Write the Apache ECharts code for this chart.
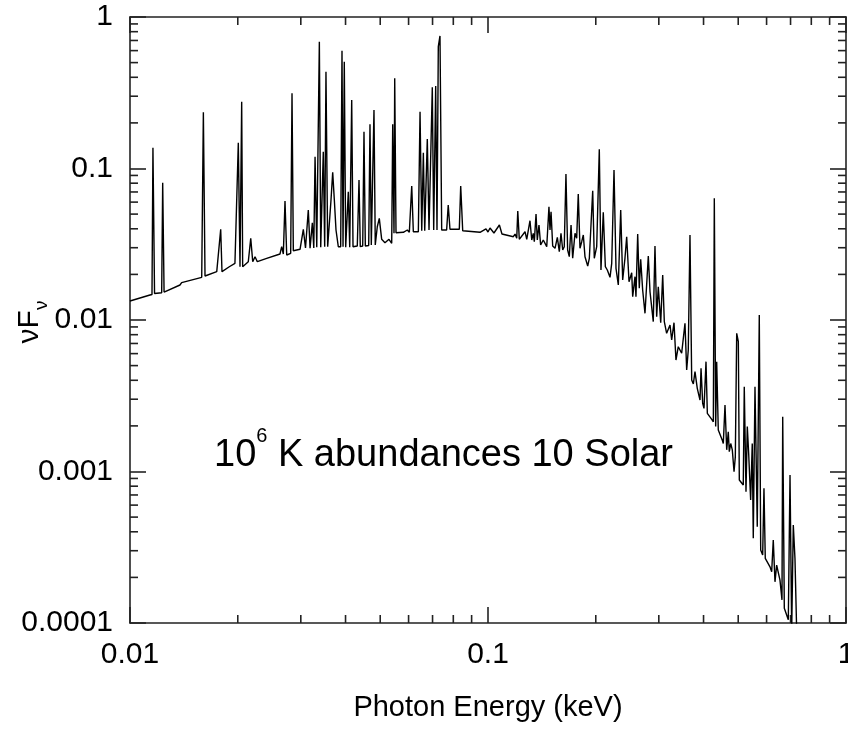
<!DOCTYPE html>
<html>
<head>
<meta charset="utf-8">
<script src="https://cdn.jsdelivr.net/npm/echarts@6/dist/echarts.min.js"></script>
<style>
  html, body { margin: 0; padding: 0; background: #fff; }
  #chart { width: 848px; height: 729px; }
</style>
</head>
<body>
<div id="chart"></div>
<script>
// spectrum: photon energy (keV) and nuFnu
const energyKeV = [
  0.0100, 0.01137, 0.01152, 0.01159, 0.01171, 0.01226, 0.01234, 0.01245, 0.01379, 0.01394,
  0.01586, 0.01603, 0.01620, 0.01747, 0.01792, 0.01807, 0.01894, 0.01964, 0.02007, 0.02029,
  0.02051, 0.02064, 0.02140, 0.02174, 0.02202, 0.02235, 0.02268, 0.02409, 0.02624, 0.02653,
  0.02681, 0.02710, 0.02740, 0.02811, 0.02835, 0.02859, 0.02985, 0.03049, 0.03092, 0.03148,
  0.03184, 0.03231, 0.03261, 0.03288, 0.03324, 0.03380, 0.03410, 0.03467, 0.03498, 0.03527,
  0.03566, 0.03643, 0.03683, 0.03722, 0.03762, 0.03818, 0.03877, 0.03910, 0.03936, 0.03968,
  0.04004, 0.04072, 0.04109, 0.04162, 0.04197, 0.04314, 0.04362, 0.04398, 0.04467, 0.04504,
  0.04543, 0.04643, 0.04681, 0.04721, 0.04763, 0.04803, 0.04843, 0.04906, 0.04970, 0.05047,
  0.05155, 0.05290, 0.05383, 0.05418, 0.05463, 0.05488, 0.05534, 0.05801, 0.05952, 0.06029,
  0.06123, 0.06186, 0.06389, 0.06459, 0.06530, 0.06598, 0.06657, 0.06768, 0.06843, 0.06931,
  0.06989, 0.07052, 0.07143, 0.07203, 0.07264, 0.07343, 0.07424, 0.07664, 0.07743, 0.07830,
  0.08315, 0.08390, 0.08499, 0.09499, 0.09872, 0.1000, 0.1013, 0.1039, 0.1076, 0.1094,
  0.1177, 0.1190, 0.1203, 0.1211, 0.1223, 0.1269, 0.1283, 0.1310, 0.1325, 0.1338,
  0.1347, 0.1362, 0.1373, 0.1388, 0.1403, 0.1427, 0.1459, 0.1480, 0.1490, 0.1500,
  0.1516, 0.1539, 0.1562, 0.1582, 0.1599, 0.1617, 0.1633, 0.1651, 0.1669, 0.1687,
  0.1706, 0.1724, 0.1750, 0.1769, 0.1787, 0.1807, 0.1827, 0.1846, 0.1866, 0.1899,
  0.1919, 0.1940, 0.1961, 0.1981, 0.2012, 0.2046, 0.2068, 0.2099, 0.2127, 0.2154,
  0.2192, 0.2216, 0.2249, 0.2278, 0.2312, 0.2348, 0.2378, 0.2413, 0.2440, 0.2477,
  0.2520, 0.2536, 0.2574, 0.2590, 0.2619, 0.2646, 0.2670, 0.2704, 0.2745, 0.2804,
  0.2835, 0.2895, 0.2927, 0.2959, 0.2990, 0.3037, 0.3076, 0.3108, 0.3155, 0.3224,
  0.3259, 0.3308, 0.3350, 0.3400, 0.3475, 0.3550, 0.3589, 0.3626, 0.3666, 0.3707,
  0.3746, 0.3786, 0.3842, 0.3910, 0.3936, 0.3978, 0.4012, 0.4064, 0.4099, 0.4217,
  0.4260, 0.4287, 0.4325, 0.4353, 0.4398, 0.4513, 0.4542, 0.4592, 0.4643, 0.4690,
  0.4721, 0.4764, 0.4813, 0.4867, 0.4907, 0.4951, 0.5003, 0.5035, 0.5165, 0.5198,
  0.5256, 0.5300, 0.5347, 0.5416, 0.5472, 0.5508, 0.5569, 0.5651, 0.5725, 0.5777,
  0.5851, 0.5900, 0.5950, 0.6133, 0.6200, 0.6264, 0.6333, 0.6402, 0.6540, 0.6625,
  0.6656, 0.6725, 0.6900, 0.6976, 0.7052, 0.7125, 0.7202, 0.7249, 0.7310
];
const nuFnu = [
  0.01335, 0.01462, 0.01474, 0.1372, 0.01496, 0.01514, 0.0806, 0.0153, 0.01702, 0.01763,
  0.01913, 0.2349, 0.01952, 0.02084, 0.0397, 0.02084, 0.02247, 0.02366, 0.1481, 0.02247,
  0.2760, 0.02247, 0.02425, 0.03461, 0.02425, 0.02617, 0.02425, 0.02554, 0.02727, 0.03047,
  0.02727, 0.06102, 0.02685, 0.02756, 0.3135, 0.02867, 0.02929, 0.0397, 0.02987, 0.05321,
  0.02974, 0.04387, 0.02987, 0.1197, 0.0302, 0.6871, 0.0302, 0.1291, 0.03047, 0.4356,
  0.03047, 0.06195, 0.09439, 0.06195, 0.03927, 0.03047, 0.03047, 0.5991, 0.03047, 0.5069,
  0.0302, 0.07028, 0.0302, 0.2832, 0.03047, 0.0308, 0.08395, 0.03047, 0.0308, 0.1749,
  0.0308, 0.03103, 0.1957, 0.03126, 0.03126, 0.2433, 0.03126, 0.04127, 0.04691, 0.03409,
  0.03237, 0.03409, 0.03208, 0.1957, 0.03735, 0.3939, 0.03769, 0.03792, 0.03927, 0.03792,
  0.07663, 0.03826, 0.03826, 0.2371, 0.03885, 0.1271, 0.03885, 0.1566, 0.03927, 0.03927,
  0.3436, 0.03927, 0.3504, 0.03927, 0.6368, 0.7494, 0.03927, 0.03927, 0.05741, 0.0397,
  0.0397, 0.07663, 0.03885, 0.03792, 0.03988, 0.03810, 0.04049, 0.03752, 0.04237, 0.03695,
  0.03546, 0.03695, 0.03461, 0.05241, 0.03409, 0.03826, 0.03409, 0.04522, 0.03373, 0.03735,
  0.03287, 0.05008, 0.03373, 0.04237, 0.03126, 0.03373, 0.03047, 0.05595, 0.03927, 0.05186,
  0.0308, 0.02974, 0.03514, 0.02823, 0.03735, 0.02897, 0.03047, 0.09199, 0.02897, 0.02617,
  0.04237, 0.02554, 0.03735, 0.03461, 0.06786, 0.02974, 0.03287, 0.03640, 0.02617, 0.02271,
  0.02554, 0.02489, 0.07135, 0.02554, 0.03047, 0.1339, 0.02138, 0.05140, 0.02247, 0.02138,
  0.01913, 0.02366, 0.09775, 0.02194, 0.01702, 0.05321, 0.01837, 0.02554, 0.03546, 0.01790,
  0.02052, 0.01425, 0.01931, 0.01425, 0.03695, 0.01619, 0.02516, 0.01578, 0.01107, 0.02645,
  0.01537, 0.00975, 0.0308, 0.01051, 0.01659, 0.00960, 0.01982, 0.00975, 0.00817, 0.00927,
  0.00738, 0.00960, 0.00544, 0.00666, 0.00603, 0.00951, 0.00468, 0.00634, 0.03640, 0.00402,
  0.00378, 0.00456, 0.00354, 0.00296, 0.00480, 0.00282, 0.00261, 0.00531, 0.00242, 0.00221,
  0.00213, 0.06356, 0.00198, 0.00531, 0.00188, 0.00161, 0.00153, 0.00275, 0.00139, 0.00183,
  0.00135, 0.00153, 0.00139, 0.000997, 0.00125, 0.00817, 0.00719, 0.000879, 0.000814, 0.00363,
  0.000735, 0.00198, 0.00132, 0.000648, 0.00153, 0.000362, 0.00363, 0.000432, 0.01079, 0.000303,
  0.000281, 0.000775, 0.000267, 0.000235, 0.000218, 0.000353, 0.000187, 0.000241, 0.000192, 0.000142,
  0.00230, 0.000125, 0.000105, 0.000948, 0.000090, 0.000443, 0.000267, 0.000260, 0.000060
];

// minor tick positions (log axes)
const xMinorTicks = [0.02, 0.03, 0.04, 0.05, 0.06, 0.07, 0.08, 0.09,
  0.2, 0.3, 0.4, 0.5, 0.6, 0.7, 0.8, 0.9];
const yMinorTicks = [0.0002, 0.0003, 0.0004, 0.0005, 0.0006, 0.0007, 0.0008, 0.0009,
  0.002, 0.003, 0.004, 0.005, 0.006, 0.007, 0.008, 0.009,
  0.02, 0.03, 0.04, 0.05, 0.06, 0.07, 0.08, 0.09,
  0.2, 0.3, 0.4, 0.5, 0.6, 0.7, 0.8, 0.9];

const xMin = 0.01, xMax = 1, yMin = 0.0001, yMax = 1;
const font = "'Liberation Sans', Arial, sans-serif";
const ink = "#000";
const frame = { color: "#222", width: 1.6 };

const chart = echarts.init(document.getElementById("chart"));

function axisBase(pos, showLabel) {
  return {
    type: "log",
    logBase: 10,
    position: pos,
    axisLine: { show: true, onZero: false, lineStyle: frame },
    axisTick: { show: true, inside: true, length: 16, lineStyle: frame },
    splitLine: { show: false },
    axisLabel: {
      show: showLabel,
      fontSize: 30,
      fontFamily: font,
      color: ink,
      margin: 17,
      hideOverlap: false,
      formatter: (v) => String(v),
    },
  };
}

const xBottom = Object.assign(axisBase("bottom", true), {
  min: xMin, max: xMax,
  name: "Photon Energy (keV)",
  nameLocation: "middle",
  nameGap: 70,
  nameTextStyle: { fontSize: 29, fontFamily: font, color: ink },
});
const xTop = Object.assign(axisBase("top", false), { min: xMin, max: xMax });
const yLeft = Object.assign(axisBase("left", true), { min: yMin, max: yMax });
const yRight = Object.assign(axisBase("right", false), { min: yMin, max: yMax });

function tickLine(x1, y1, x2, y2) {
  return { type: "line", shape: { x1, y1, x2, y2 }, style: { stroke: frame.color, lineWidth: frame.width } };
}

const option = {
  animation: false,
  backgroundColor: "#fff",
  grid: { left: 130, right: 2, top: 17, bottom: 106, containLabel: false, outerBoundsMode: "none" },
  xAxis: [xBottom, xTop],
  yAxis: [yLeft, yRight],
  graphic: [
    {
      type: "text",
      x: 30,
      y: 322,
      rotation: Math.PI / 2,
      style: {
        text: "{m|νF}{s|ν}",
        align: "center",
        verticalAlign: "middle",
        rich: {
          m: { fontSize: 30, fontFamily: font, fill: ink, lineHeight: 42, verticalAlign: "middle" },
          s: { fontSize: 19, fontFamily: font, fill: ink, lineHeight: 19, verticalAlign: "bottom" },
        },
      },
    },
    {
      type: "text",
      x: 214,
      y: 456,
      style: {
        text: "{m|10}{p|6}{m| K abundances 10 Solar}",
        align: "left",
        verticalAlign: "middle",
        rich: {
          m: { fontSize: 38, fontFamily: font, fill: ink, lineHeight: 60, verticalAlign: "middle" },
          p: { fontSize: 20, fontFamily: font, fill: ink, lineHeight: 20, verticalAlign: "top" },
        },
      },
    },
  ],
  series: [
    {
      type: "line",
      xAxisIndex: 0,
      yAxisIndex: 0,
      showSymbol: false,
      symbol: "none",
      clip: true,
      silent: true,
      lineStyle: { color: ink, width: 1.4 },
      data: energyKeV.map((e, i) => [e, nuFnu[i]]),
    },
    {
      type: "custom",
      xAxisIndex: 0,
      yAxisIndex: 0,
      silent: true,
      data: xMinorTicks.map((v) => [v, yMin]),
      renderItem: (params, api) => {
        const b = api.coord([api.value(0), yMin]);
        const t = api.coord([api.value(0), yMax]);
        return {
          type: "group",
          children: [tickLine(b[0], b[1], b[0], b[1] - 8), tickLine(t[0], t[1], t[0], t[1] + 8)],
        };
      },
    },
    {
      type: "custom",
      xAxisIndex: 0,
      yAxisIndex: 0,
      silent: true,
      data: yMinorTicks.map((v) => [xMin, v]),
      renderItem: (params, api) => {
        const l = api.coord([xMin, api.value(1)]);
        const r = api.coord([xMax, api.value(1)]);
        return {
          type: "group",
          children: [tickLine(l[0], l[1], l[0] + 8, l[1]), tickLine(r[0], r[1], r[0] - 8, r[1])],
        };
      },
    },
  ],
};

chart.setOption(option);
</script>
</body>
</html>
